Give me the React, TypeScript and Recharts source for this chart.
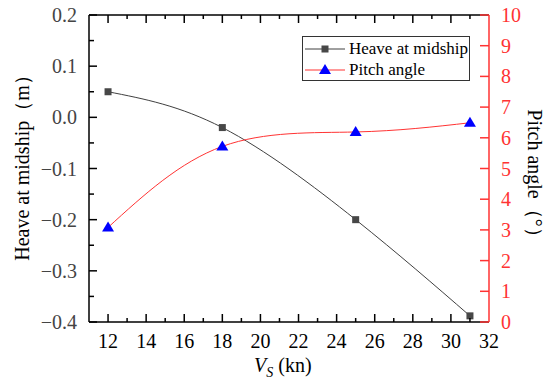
import { ComposedChart, Line, XAxis, YAxis, Legend } from 'recharts';

const speeds = [12, 18, 25, 31];
const heave = [0.05, -0.02, -0.2, -0.388];
const pitch = [3.08, 5.72, 6.19, 6.49];

const xTicks = [12, 13, 14, 15, 16, 17, 18, 19, 20, 21, 22, 23, 24, 25, 26, 27, 28, 29, 30, 31, 32];
const heaveTicks = [-0.4, -0.35, -0.3, -0.25, -0.2, -0.15, -0.1, -0.05, 0, 0.05, 0.1, 0.15, 0.2];
const pitchTicks = [0, 1, 2, 3, 4, 5, 6, 7, 8, 9, 10];

const data = speeds.map((s, i) => ({ speed: s, heave: heave[i], pitch: pitch[i] }));

const FONT = '"Liberation Serif", "DejaVu Serif", serif';
const RED = '#ff3333';
const GAP = 12;

function fmtHeave(v: number) {
  const s = Math.abs(v).toFixed(1);
  return v < -0.001 ? '\u2212' + s : s;
}

function BottomTick(props: any) {
  const { x, y, payload } = props;
  const v = payload.value;
  const major = v % 2 === 0;
  const ay = y - GAP;
  return (
    <g>
      {v < 32 && <line x1={x} x2={x} y1={ay} y2={ay - (major ? 8 : 4)} stroke="#000" strokeWidth={1.5} />}
      {major && (
        <text x={x} y={ay + 26} textAnchor="middle" style={{ fontSize: 20, fontFamily: FONT }} fill="#000">
          {v}
        </text>
      )}
    </g>
  );
}

function TopTick(props: any) {
  const { x, y, payload } = props;
  const v = payload.value;
  if (v >= 32) return <g />;
  const major = v % 2 === 0;
  return <line x1={x} x2={x} y1={y} y2={y + (major ? 8 : 4)} stroke="#000" strokeWidth={1.5} />;
}

function LeftTick(props: any) {
  const { x, y, payload } = props;
  const v = payload.value;
  const major = Math.abs(Math.round(v * 100)) % 10 === 0;
  const ax = x + GAP;
  return (
    <g>
      <line x1={ax} x2={ax + (major ? 8 : 5)} y1={y} y2={y} stroke="#000" strokeWidth={1.5} />
      {major && (
        <text x={ax - 12} y={y} dy="0.35em" textAnchor="end" style={{ fontSize: 20, fontFamily: FONT }} fill="#444">
          {fmtHeave(v)}
        </text>
      )}
    </g>
  );
}

function RightTick(props: any) {
  const { x, y, payload } = props;
  const ax = x - GAP;
  return (
    <g>
      <line x1={ax} x2={ax - 9} y1={y} y2={y} stroke={RED} strokeWidth={1.5} />
      <text x={ax + 12} y={y} dy="0.35em" textAnchor="start" style={{ fontSize: 20, fontFamily: FONT }} fill={RED}>
        {payload.value}
      </text>
    </g>
  );
}

function SquareDot(props: any) {
  const { cx, cy } = props;
  return <rect x={cx - 3.5} y={cy - 3.5} width={7} height={7} fill="#474747" />;
}

function TriangleDot(props: any) {
  const { cx, cy } = props;
  return <path d={`M${cx},${cy - 6}L${cx + 6},${cy + 4}L${cx - 6},${cy + 4}Z`} fill="#0000ff" />;
}

function LegendBox() {
  const item = (label: string, color: string, marker: 'sq' | 'tri') => (
    <div style={{ display: 'flex', alignItems: 'center', height: 21 }}>
      <svg width={44} height={14}>
        <line x1={2} x2={42} y1={7} y2={7} stroke={color} strokeWidth={1} />
        {marker === 'sq' ? (
          <rect x={18.5} y={3.5} width={7} height={7} fill="#474747" />
        ) : (
          <path d="M22,1L28,11L16,11Z" fill="#0000ff" />
        )}
      </svg>
      <span style={{ marginLeft: 2 }}>{label}</span>
    </div>
  );
  return (
    <div
      style={{
        border: '1px solid #333',
        width: 166,
        height: 42,
        padding: '1px 0 0 0',
        fontFamily: FONT,
        fontSize: 17,
        color: '#000',
        background: '#fff',
        lineHeight: '21px',
      }}
    >
      {item('Heave at midship', '#404040', 'sq')}
      {item('Pitch angle', RED, 'tri')}
    </div>
  );
}

export default function App() {
  return (
    <div style={{ position: 'absolute', left: 0, top: 0, width: 550, height: 387, background: '#fff', fontFamily: FONT }}>
      <ComposedChart width={550} height={387} data={data} margin={{ top: 0, right: 0, left: 0, bottom: 0 }}>
        <XAxis
          xAxisId="b"
          dataKey="speed"
          type="number"
          domain={[11, 32]}
          ticks={xTicks}
          interval={0}
          height={65}
          tickSize={0}
          tickMargin={GAP}
          tick={<BottomTick />}
          axisLine={{ stroke: '#000', strokeWidth: 1.5 }}
          allowDataOverflow
        />
        <XAxis
          xAxisId="t"
          orientation="top"
          dataKey="speed"
          type="number"
          domain={[11, 32]}
          ticks={xTicks}
          interval={0}
          height={15}
          tickSize={0}
          tickMargin={0}
          tick={<TopTick />}
          axisLine={{ stroke: '#000', strokeWidth: 1.5 }}
          allowDataOverflow
        />
        <YAxis
          yAxisId="h"
          type="number"
          domain={[-0.4, 0.2]}
          ticks={heaveTicks}
          interval={0}
          width={89}
          tickSize={0}
          tickMargin={GAP}
          tick={<LeftTick />}
          axisLine={{ stroke: '#000', strokeWidth: 1.5 }}
          allowDataOverflow
        />
        <YAxis
          yAxisId="p"
          orientation="right"
          type="number"
          domain={[0, 10]}
          ticks={pitchTicks}
          interval={0}
          width={61}
          tickSize={0}
          tickMargin={GAP}
          tick={<RightTick />}
          axisLine={{ stroke: RED, strokeWidth: 1.5 }}
          allowDataOverflow
        />
        <Legend
          layout="vertical"
          align="center"
          verticalAlign="middle"
          content={<LegendBox />}
          wrapperStyle={{ left: 302, top: 36, width: 168 }}
        />
        <Line
          xAxisId="b"
          yAxisId="h"
          type="natural"
          dataKey="heave"
          stroke="#404040"
          strokeWidth={1}
          dot={<SquareDot />}
          activeDot={false}
          isAnimationActive={false}
        />
        <Line
          xAxisId="b"
          yAxisId="p"
          type="natural"
          dataKey="pitch"
          stroke={RED}
          strokeWidth={1}
          dot={<TriangleDot />}
          activeDot={false}
          isAnimationActive={false}
        />
      </ComposedChart>
      <svg
        width={550}
        height={387}
        style={{ position: 'absolute', left: 0, top: 0, pointerEvents: 'none', fontFamily: FONT, fontSize: 20 }}
      >
        <text transform="translate(29,163) rotate(-90)" textAnchor="middle" fill="#000">
          Heave at midship（m）
        </text>
        <text transform="translate(528,178) rotate(90)" textAnchor="middle" fill="#000">
          Pitch angle（°）
        </text>
        <text x={254} y={372} fill="#000">
          <tspan fontStyle="italic">V</tspan>
          <tspan fontStyle="italic" fontSize={14} dy={5}>S</tspan>
          <tspan dy={-5}> (kn)</tspan>
        </text>
      </svg>
    </div>
  );
}
